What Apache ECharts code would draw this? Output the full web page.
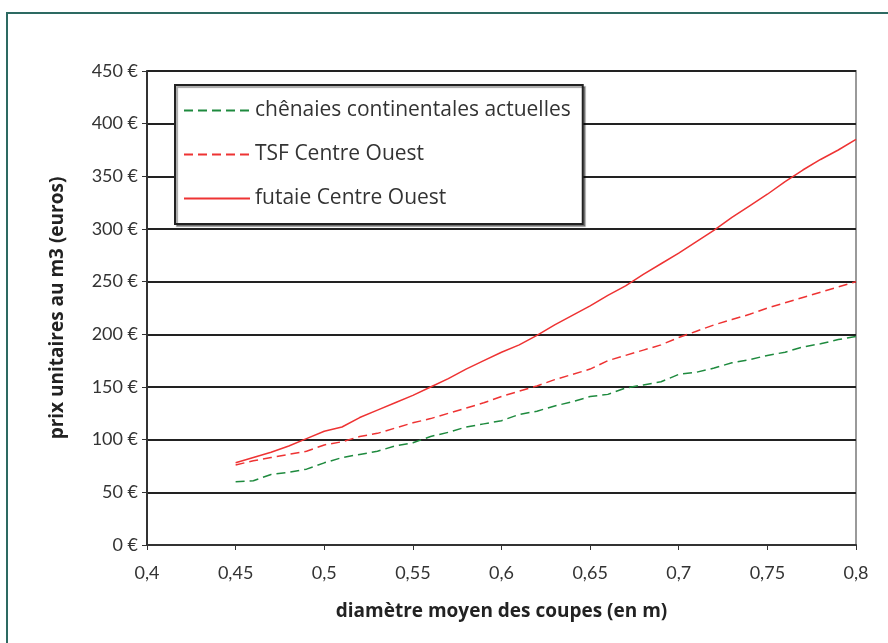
<!DOCTYPE html>
<html>
<head>
<meta charset="utf-8">
<script src="https://cdn.jsdelivr.net/npm/echarts@6/dist/echarts.min.js"></script>
<style>
html,body{margin:0;padding:0;background:#fff;}
#chart{width:888px;height:643px;}
</style>
</head>
<body>
<div id="chart"></div>
<script>
// diamètres (m)
var diametres = [0.45,0.46,0.47,0.48,0.49,0.50,0.51,0.52,0.53,0.54,0.55,0.56,0.57,0.58,0.59,0.60,0.61,0.62,
  0.63,0.64,0.65,0.66,0.67,0.68,0.69,0.70,0.71,0.72,0.73,0.74,0.75,0.76,0.77,0.78,0.79,0.80];
// prix unitaires au m3 (euros)
var chenaies = [60,61,67,69,72,78,83,86,89,94,97,103,107,112,115,118,124,127,
  132,136,141,143,149,152,155,162,164,168,173,176,180,183,188,191,195,198];
var tsfCO = [76,80,83,86,89,95,98,103,106,111,116,120,125,130,135,141,146,151,
  157,162,167,175,180,185,190,197,203,209,214,219,225,230,235,240,245,250];
var futaieCO = [78,83,88,94,101,108,112,121,128,135,142,150,158,167,175,183,190,199,
  209,218,227,237,246,257,267,277,288,299,311,322,333,345,356,366,375,385];
var noms = ['chênaies continentales actuelles','TSF Centre Ouest','futaie Centre Ouest'];

function paires(vals){
  var out=[];
  for(var i=0;i<diametres.length;i++){ out.push([diametres[i],vals[i]]); }
  return out;
}

var police = '"Open Sans", Lato, sans-serif';
var chart = echarts.init(document.getElementById('chart'));
chart.setOption({
  animation:false,
  backgroundColor:'#fff',
  graphic:[{
    type:'rect', shape:{x:7,y:13,width:900,height:700},
    style:{fill:'none',stroke:'#2d6a62',lineWidth:2}, silent:true
  }],
  grid:{left:147,right:32,top:71,bottom:98,show:true,borderColor:'#9a9a9a',borderWidth:2},
  legend:{
    orient:'vertical', left:175, top:85,
    padding:[15,12,15,8], itemGap:23,
    itemWidth:66, itemHeight:14,
    itemStyle:{opacity:0},
    borderColor:'#222', borderWidth:2, backgroundColor:'#fff',
    shadowColor:'rgba(0,0,0,0.35)', shadowOffsetX:2, shadowOffsetY:2, shadowBlur:1,
    textStyle:{fontFamily:police,fontSize:21,color:'#333'},
    data:noms
  },
  xAxis:{
    type:'value', min:0.4, max:0.8, interval:0.05,
    name:'diamètre moyen des coupes (en m)', nameLocation:'middle', nameGap:57,
    nameTextStyle:{fontFamily:police,fontSize:19,fontWeight:'bold',color:'#222'},
    axisLine:{lineStyle:{color:'#333',width:2}},
    axisTick:{show:true,length:5,lineStyle:{color:'#333'}},
    axisLabel:{fontFamily:'Lato, sans-serif',fontSize:18,color:'#333',margin:19,
      formatter:function(v){return (+v.toFixed(2)).toString().replace('.',',');}},
    splitLine:{show:false}
  },
  yAxis:{
    type:'value', min:0, max:450, interval:50,
    name:'prix unitaires au m3 (euros)', nameLocation:'middle', nameGap:80,
    nameTextStyle:{fontFamily:police,fontSize:19,fontWeight:'bold',color:'#222'},
    axisLine:{show:true,lineStyle:{color:'#333',width:2}},
    axisTick:{show:true,length:5,lineStyle:{color:'#333'}},
    axisLabel:{fontFamily:'Lato, sans-serif',fontSize:18,color:'#333',margin:9,
      formatter:'{value} €'},
    splitLine:{show:true,lineStyle:{color:'#222',width:2}}
  },
  series:[
    {name:noms[0],type:'line',data:paires(chenaies),symbol:'none',
      lineStyle:{color:'#1e8a3e',width:1.5,type:[9,5]},itemStyle:{color:'#1e8a3e'}},
    {name:noms[1],type:'line',data:paires(tsfCO),symbol:'none',
      lineStyle:{color:'#ee3333',width:1.5,type:[9,5]},itemStyle:{color:'#ee3333'}},
    {name:noms[2],type:'line',data:paires(futaieCO),symbol:'none',
      lineStyle:{color:'#ee3333',width:1.5},itemStyle:{color:'#ee3333'}}
  ]
});
</script>
</body>
</html>
